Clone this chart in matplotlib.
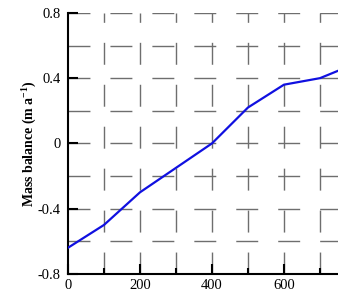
import matplotlib
matplotlib.use("Agg")
import matplotlib.pyplot as plt
from matplotlib.ticker import MultipleLocator

x_vals = [0, 100, 200, 300, 400, 500, 600, 700, 750]
mass_balance = [-0.64, -0.50, -0.30, -0.15, 0.0, 0.22, 0.36, 0.40, 0.445]
x_ticks = [0, 200, 400, 600]
y_ticks = [-0.8, -0.4, 0, 0.4, 0.8]
y_tick_labels = ["-0.8", "-0.4", "0", "0.4", "0.8"]
y_label = "Mass balance (m a$^{\\mathregular{-1}}$)"

plt.rcParams['font.family'] = ['Liberation Serif', 'DejaVu Serif']
plt.rcParams['mathtext.fontset'] = 'custom'
plt.rcParams['mathtext.rm'] = 'Liberation Serif:bold'

fig = plt.figure(figsize=(3.38, 3.0), dpi=100)
ax = fig.add_axes([0.201, 0.087, 0.799, 0.870])

ax.set_xlim(0, 750)
ax.set_ylim(-0.8, 0.8)

lw = 1.0
ax.set_axisbelow(True)
for gx in range(100, 800, 100):
    ax.axvline(gx, color='#6e6e6e', lw=lw, dashes=(15.8/lw, 14.4/lw), zorder=0)
for gy in [-0.6, -0.4, -0.2, 0, 0.2, 0.4, 0.6, 0.8]:
    ax.axhline(gy, color='#6e6e6e', lw=lw, dashes=(15.8/lw, 14.4/lw), zorder=0)

ax.plot(x_vals, mass_balance, color='#1010e0', lw=1.6, zorder=3)

ax.set_xticks(x_ticks)
ax.xaxis.set_minor_locator(MultipleLocator(100))
ax.set_yticks(y_ticks)
ax.set_yticklabels(y_tick_labels)
ax.tick_params(axis='both', which='major', direction='in', length=7, width=1.5,
               labelsize=10.5, colors='black')
ax.tick_params(axis='x', which='major', length=7, pad=4)
ax.tick_params(axis='x', which='minor', direction='in', length=4, width=1.5)
ax.tick_params(axis='y', which='major', pad=5)

for s in ['top', 'right']:
    ax.spines[s].set_visible(False)
for s in ['left', 'bottom']:
    ax.spines[s].set_linewidth(1.5)

ax.set_ylabel(y_label, fontsize=10, fontweight='bold', labelpad=0)

fig.savefig("out.png", dpi=100)
